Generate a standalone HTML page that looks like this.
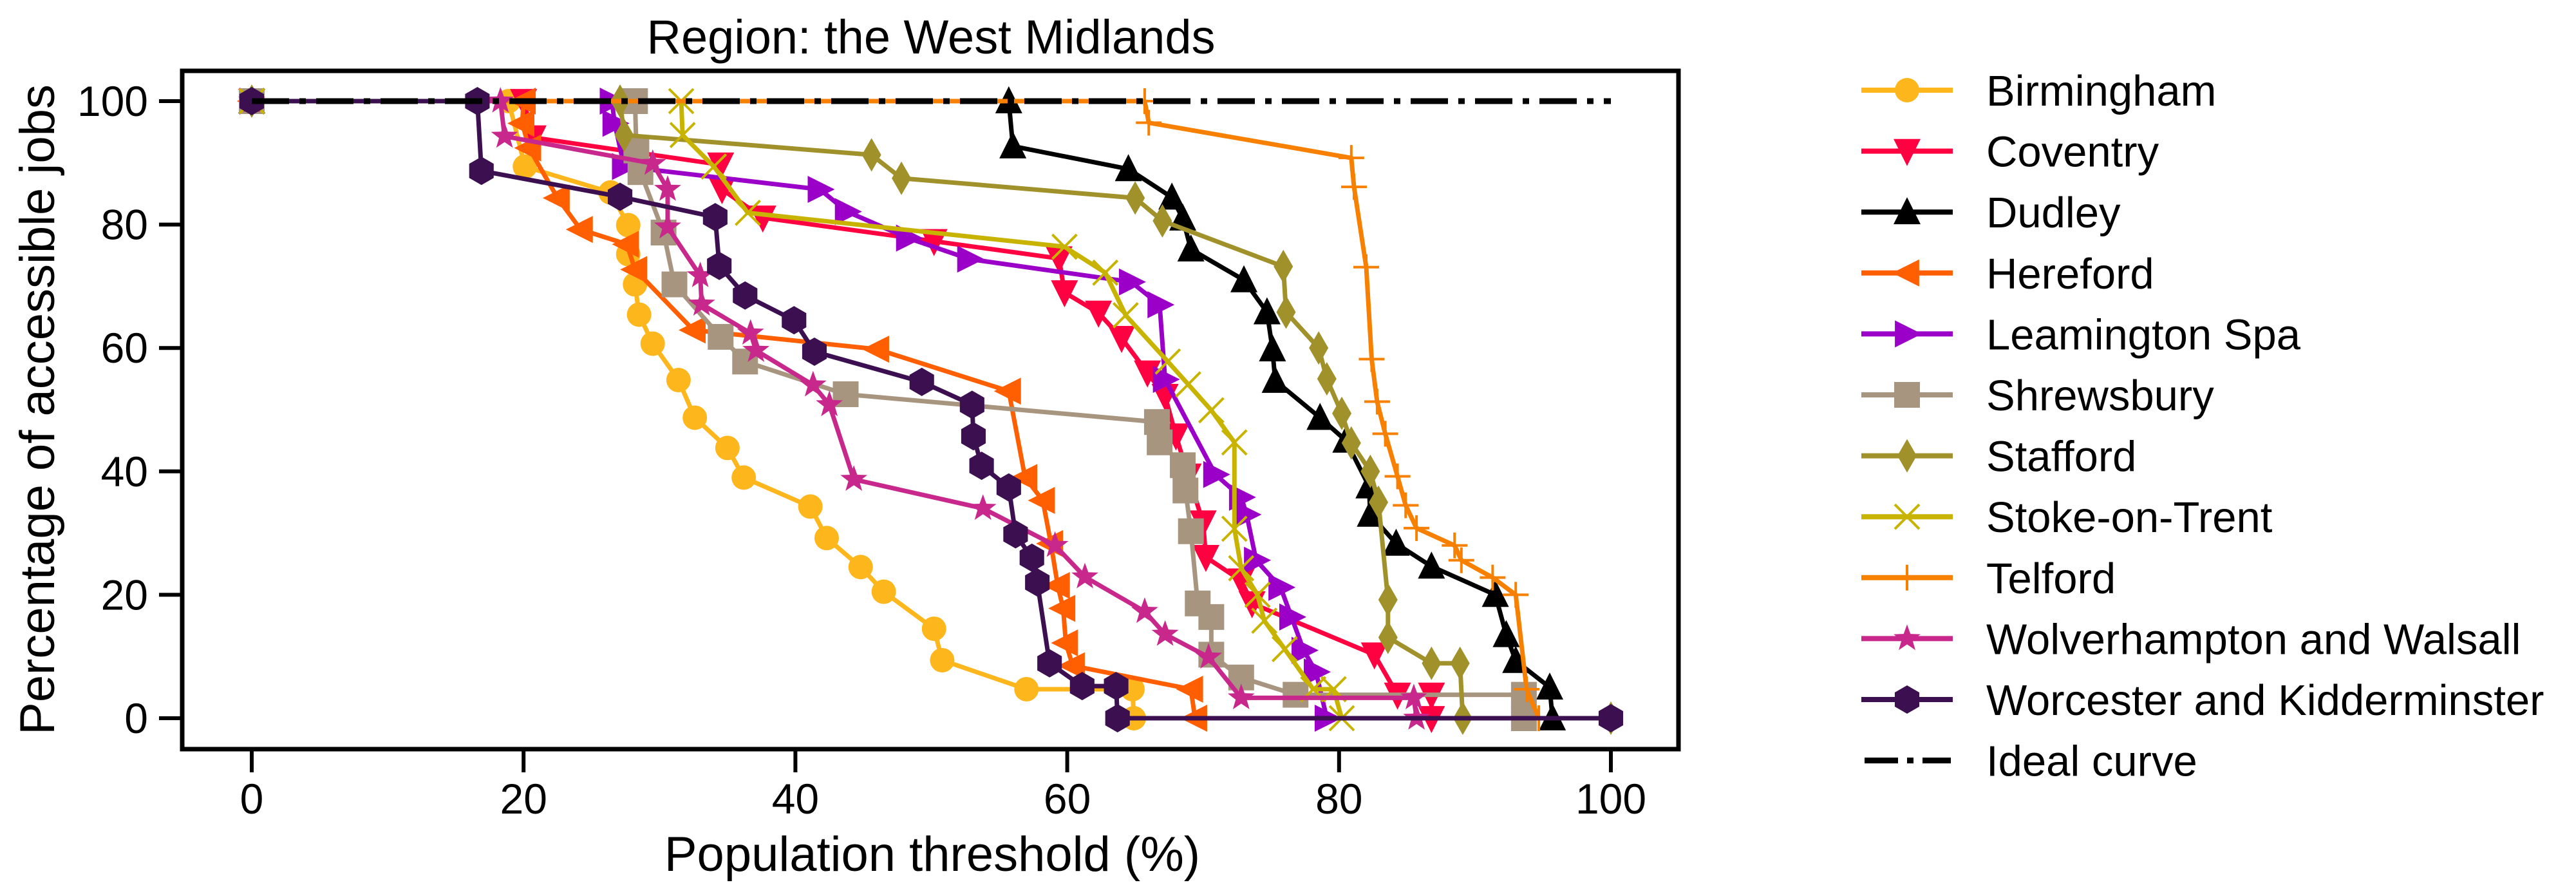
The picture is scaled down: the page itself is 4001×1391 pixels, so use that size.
<!DOCTYPE html>
<html><head><meta charset="utf-8"><style>
html,body{margin:0;padding:0;background:#fff;}
svg{display:block;font-family:"Liberation Sans",Arial,sans-serif;}
</style></head><body>
<svg id="chart" width="4001" height="1391" viewBox="0 0 4001 1391" xmlns="http://www.w3.org/2000/svg">
<text x="1446" y="83" font-size="74" text-anchor="middle">Region: the West Midlands</text>
<g id="plot"></g>
<rect x="283" y="110" width="2324" height="1053" fill="none" stroke="#000" stroke-width="7"/>
<g id="axes"></g>
<text x="1448" y="1352" font-size="76" text-anchor="middle">Population threshold (%)</text>
<text transform="translate(84,636) rotate(-90)" font-size="76" text-anchor="middle">Percentage of accessible jobs</text>
<g id="legend"></g>
</svg>
<script>
const xTicks = [0,20,40,60,80,100];
const yTicks = [0,20,40,60,80,100];
const names = ["Birmingham","Coventry","Dudley","Hereford","Leamington Spa","Shrewsbury","Stafford","Stoke-on-Trent","Telford","Wolverhampton and Walsall","Worcester and Kidderminster"];
const colors = ["#fdb71c","#ff0040","#000000","#ff5f00","#9b00c8","#a89580","#a0912a","#c8b400","#f78000","#c8288c","#3c1050"];
const markers = ["circle","tdown","tup","tleft","tright","square","diamond","x","plus","star","hex"];
const birminghamX = [0,18.9,20.1,26.4,27.7,27.7,28.2,28.5,29.5,31.4,32.6,35.0,36.2,41.1,42.3,44.8,46.5,50.2,50.8,57.0,64.8,64.9];
const birminghamY = [100,100,89.4,85.2,79.9,75.2,70.3,65.4,60.7,54.8,48.7,43.8,39.0,34.3,29.2,24.5,20.5,14.5,9.4,4.7,4.7,0];
const coventryX = [0,20.0,20.7,34.5,34.6,37.6,50.2,59.4,59.8,62.3,64.0,65.9,67.2,68.0,68.9,70.0,70.2,72.8,73.6,82.6,84.3,86.8,86.8];
const coventryY = [100,100,94.1,89.7,85.7,81.1,77.3,74.5,69.0,65.7,61.6,56.0,52.2,45.8,39.3,31.7,26.1,22.3,18.6,10.3,3.8,3.8,0];
const dudleyX = [0,55.7,56.0,64.5,67.7,68.5,69.1,73.0,74.7,75.1,75.3,78.6,80.5,82.2,82.3,84.2,86.8,91.5,92.3,93.0,95.5,95.7];
const dudleyY = [100,100,92.7,89.0,84.4,81.0,76.0,71.0,65.8,59.8,54.7,48.7,45.0,37.6,33.0,28.3,24.6,20.0,13.5,9.3,5.0,0];
const herefordX = [0,20.0,19.9,20.4,22.5,24.2,27.6,28.2,32.5,46.0,55.7,56.9,58.2,58.8,59.3,59.7,59.9,60.4,69.1,69.4];
const herefordY = [100,100,96.4,92.4,84.3,79.2,76.8,72.7,62.9,59.8,53.0,39.0,35.3,28.3,21.5,17.8,12.2,8.5,4.7,0];
const leamingtonX = [0,26.5,26.7,27.4,41.8,43.8,48.3,52.8,64.7,66.8,67.2,70.9,72.8,73.2,73.9,75.7,76.5,77.4,78.3,79.1];
const leamingtonY = [100,100,96.4,89.4,85.7,82.1,77.8,74.4,70.7,67.0,54.9,39.5,35.8,33.0,25.6,21.2,16.4,11.0,7.5,0];
const shrewsburyX = [0,28.2,28.3,28.6,30.3,31.1,34.5,36.3,43.7,66.6,66.8,68.5,68.7,69.1,69.6,70.6,70.6,72.8,76.8,93.6,93.6];
const shrewsburyY = [100,100,92.0,88.5,78.7,70.3,61.8,57.8,52.5,48.0,44.7,41.0,36.9,30.3,18.6,16.4,10.3,6.6,3.8,3.8,0];
const staffordX = [0,27.1,27.4,45.6,47.8,65.0,67.0,75.9,76.1,78.5,79.1,80.2,80.9,82.3,82.9,83.6,83.6,86.8,88.9,89.1,100];
const staffordY = [100,100,94.5,91.3,87.5,84.3,80.6,73.2,65.8,60.0,55.0,49.4,44.6,40.0,35.0,19.2,13.1,8.9,8.9,0,0];
const stokeX = [0,31.6,31.7,34.0,36.5,59.8,62.8,64.3,67.4,68.9,70.6,72.3,72.3,72.8,74.0,74.5,76.0,78.1,79.6,80.2];
const stokeY = [100,100,94.5,89.4,81.9,76.4,72.2,65.3,57.8,54.1,49.9,44.7,30.7,24.3,20.0,15.8,11.2,4.7,4.7,0];
const telfordX = [0,65.7,66.0,80.9,81.1,82.0,82.4,82.8,83.4,84.3,84.9,85.7,88.5,89.0,91.3,93.0,93.8,94.7];
const telfordY = [100,100,96.5,90.8,86.1,73.1,58.2,51.3,46.1,39.2,34.5,30.8,28.0,25.6,22.8,20.0,4.7,0];
const wolverX = [0,18.3,18.6,29.5,30.6,30.6,33.0,33.1,36.7,37.1,41.3,42.5,44.3,53.8,59.1,61.3,65.7,67.2,70.4,72.8,85.5,85.7];
const wolverY = [100,100,94.3,89.9,85.7,79.6,71.7,67.1,62.4,59.6,54.0,50.8,38.7,34.0,28.0,22.9,17.3,13.6,9.9,3.3,3.3,0];
const worcesterX = [0,16.6,16.9,27.1,34.1,34.4,36.3,39.9,41.4,49.3,53.0,53.1,53.7,55.7,56.2,57.4,57.8,58.7,61.1,63.6,63.7,100];
const worcesterY = [100,100,88.7,84.5,81.2,73.3,68.5,64.5,59.4,54.5,50.8,45.7,40.9,37.4,29.8,26.0,22.0,8.9,5.2,5.2,0,0];
const idealX = [0,100];
const idealY = [100,100];
const seriesX = [birminghamX,coventryX,dudleyX,herefordX,leamingtonX,shrewsburyX,staffordX,stokeX,telfordX,wolverX,worcesterX];
const seriesY = [birminghamY,coventryY,dudleyY,herefordY,leamingtonY,shrewsburyY,staffordY,stokeY,telfordY,wolverY,worcesterY];
const slugs = ["birmingham","coventry","dudley","hereford","leamington-spa","shrewsbury","stafford","stoke-on-trent","telford","wolverhampton-and-walsall","worcester-and-kidderminster"];

const NS="http://www.w3.org/2000/svg";
const X0=391, X1=2502, Y0=1115, Y1=157;
function sx(v){return X0+(X1-X0)*v/100;}
function sy(v){return Y0+(Y1-Y0)*v/100;}
function mk(tag,attrs,parent){const e=document.createElementNS(NS,tag);for(const k in attrs)e.setAttribute(k,attrs[k]);parent.appendChild(e);return e;}
function pts(arr){return arr.map(p=>p.join(",")).join(" ");}
function markerEl(type,x,y,c,parent){
  let e;
  const s=21;
  if(type==="circle") e=mk("circle",{cx:x,cy:y,r:19,fill:c},parent);
  else if(type==="tdown") e=mk("polygon",{points:pts([[x-s,y-s*0.9],[x+s,y-s*0.9],[x,y+s*1.1]]),fill:c},parent);
  else if(type==="tup") e=mk("polygon",{points:pts([[x-s,y+s*0.9],[x+s,y+s*0.9],[x,y-s*1.1]]),fill:c},parent);
  else if(type==="tleft") e=mk("polygon",{points:pts([[x+s*0.9,y-s],[x+s*0.9,y+s],[x-s*1.1,y]]),fill:c},parent);
  else if(type==="tright") e=mk("polygon",{points:pts([[x-s*0.9,y-s],[x-s*0.9,y+s],[x+s*1.1,y]]),fill:c},parent);
  else if(type==="square") e=mk("rect",{x:x-20,y:y-20,width:40,height:40,fill:c},parent);
  else if(type==="diamond") e=mk("polygon",{points:pts([[x,y-26],[x+15,y],[x,y+26],[x-15,y]]),fill:c},parent);
  else if(type==="x") e=mk("path",{d:`M${x-19},${y-19}L${x+19},${y+19}M${x-19},${y+19}L${x+19},${y-19}`,stroke:c,"stroke-width":4,fill:"none"},parent);
  else if(type==="plus") e=mk("path",{d:`M${x-20},${y}L${x+20},${y}M${x},${y-20}L${x},${y+20}`,stroke:c,"stroke-width":4,fill:"none"},parent);
  else if(type==="star"){const p=[];for(let i=0;i<10;i++){const r=i%2?9:22;const a=-Math.PI/2+i*Math.PI/5;p.push([x+r*Math.cos(a),y+r*Math.sin(a)]);}e=mk("polygon",{points:pts(p),fill:c},parent);}
  else if(type==="hex"){const p=[];for(let i=0;i<6;i++){const a=-Math.PI/2+i*Math.PI/3;p.push([x+22*Math.cos(a),y+22*Math.sin(a)]);}e=mk("polygon",{points:pts(p),fill:c},parent);}
  return e;
}
const plot=document.getElementById("plot");
for(let i=0;i<names.length;i++){
  const g=mk("g",{},plot);
  
  
  const xs=seriesX[i], ys=seriesY[i];
  const ln=mk("polyline",{points:xs.map((v,j)=>sx(v)+","+sy(ys[j])).join(" "),fill:"none",stroke:colors[i],"stroke-width":7,"stroke-linejoin":"round"},g);
  
  
  for(let j=0;j<xs.length;j++){
    const m=markerEl(markers[i],sx(xs[j]),sy(ys[j]),colors[i],g);
    
    
  }
}
const ideal=mk("polyline",{points:idealX.map((v,j)=>sx(v)+","+sy(idealY[j])).join(" "),fill:"none",stroke:"#000","stroke-width":9,"stroke-dasharray":"58 16 10 16"},plot);



const axes=document.getElementById("axes");
xTicks.forEach(t=>{
  const l=mk("line",{x1:sx(t),x2:sx(t),y1:1163,y2:1199,stroke:"#000","stroke-width":6},axes);
  
  
  const tx=mk("text",{x:sx(t),y:1263,"font-size":66,"text-anchor":"middle"},axes);
  tx.textContent=t;
  
  
});
yTicks.forEach(t=>{
  const l=mk("line",{x1:247,x2:283,y1:sy(t),y2:sy(t),stroke:"#000","stroke-width":6},axes);
  
  
  const tx=mk("text",{x:230,y:sy(t)+23,"font-size":66,"text-anchor":"end"},axes);
  tx.textContent=t;
  
  
});

const legend=document.getElementById("legend");
const allNames=names.concat(["Ideal curve"]);
allNames.forEach((n,i)=>{
  const y=140+i*94.6;
  const g=mk("g",{},legend);
  
  
  if(i<names.length){
    mk("line",{x1:2891,x2:3033,y1:y,y2:y,stroke:colors[i],"stroke-width":8},g);
    markerEl(markers[i],2962,y,colors[i],g);
  } else {
    mk("line",{x1:2896,x2:3030,y1:y,y2:y,stroke:"#000","stroke-width":9,"stroke-dasharray":"52 14 10 14"},g);
  }
  const t=mk("text",{x:3085,y:y+24,"font-size":67},g);
  t.textContent=n;
});
</script>
</body></html>
